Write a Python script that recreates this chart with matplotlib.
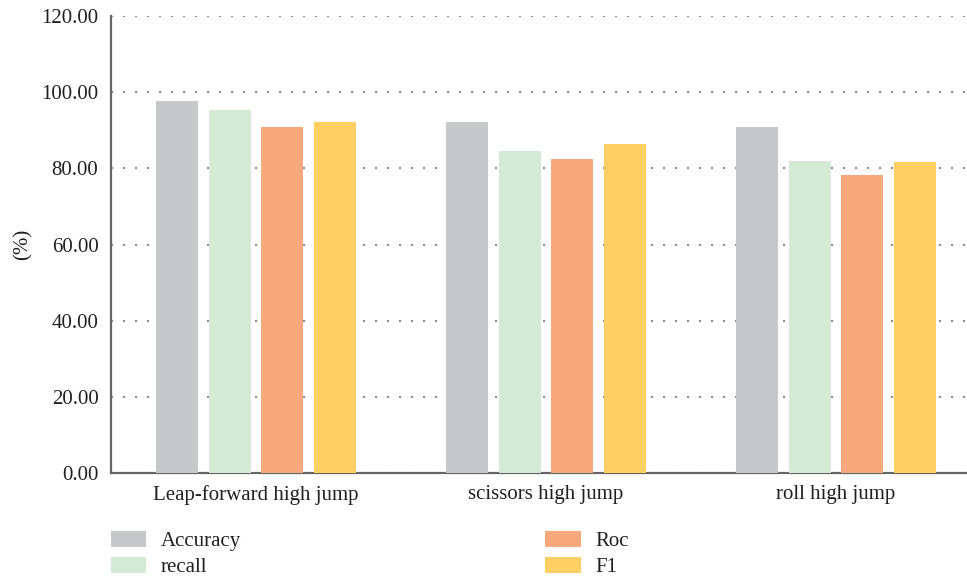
import matplotlib
matplotlib.use("Agg")
import matplotlib.pyplot as plt
import numpy as np

categories = ["Leap-forward high jump", "scissors high jump", "roll high jump"]
series_names = ["Accuracy", "recall", "Roc", "F1"]
accuracy = [97.7, 92.2, 90.9]
recall = [95.3, 84.6, 81.9]
roc = [90.9, 82.5, 78.3]
f1 = [92.2, 86.4, 81.7]
yticks = [0, 20, 40, 60, 80, 100, 120]

colors = ["#C7C8CA", "#D5EAD6", "#F7A87C", "#FED063"]

plt.rcParams["font.family"] = ["Liberation Serif", "DejaVu Serif"]

W, H = 967, 576
fig = plt.figure(figsize=(W / 100, H / 100), dpi=100)
left, right, top, bottom = 111, 981, 16, 473
ax = fig.add_axes([left / W, 1 - bottom / H, (right - left) / W, (bottom - top) / H])

x = np.arange(len(categories))
step = 0.181
width = 0.145
values = [accuracy, recall, roc, f1]
handles = []
for i, (name, vals) in enumerate(zip(series_names, values)):
    b = ax.bar(x + (i - 1.5) * step, vals, width=width, color=colors[i],
               label=name, zorder=3)
    handles.append(b)

fs = 15
ax.set_xlim(-0.5, 2.5)
ax.set_ylim(0, 120)
ax.set_yticks(yticks)
ax.set_yticklabels([f"{v:.2f}" for v in yticks], fontsize=fs, color="#231F20")
ax.set_xticks(x)
ax.set_xticklabels(categories, fontsize=fs, color="#231F20")
ax.tick_params(axis="both", length=0)
ax.tick_params(axis="x", pad=9)
ax.tick_params(axis="y", pad=9)

ax.yaxis.grid(True, linestyle=(0, (1, 4.76)), color="#8C8C8C", linewidth=1.5, zorder=0)
ax.set_axisbelow(True)

for s in ["top", "right"]:
    ax.spines[s].set_visible(False)
for s in ["left", "bottom"]:
    ax.spines[s].set_color("#666666")
    ax.spines[s].set_linewidth(1.6)

ax.set_ylabel("(%)", fontsize=fs, color="#231F20", labelpad=6.5)

fig.legend(handles=handles, labels=series_names, ncol=2, frameon=False,
           loc="upper left", bbox_to_anchor=(111 / W, 1 - 531 / H),
           borderpad=0, borderaxespad=0,
           fontsize=fs, handlelength=1.7, handleheight=0.77,
           handletextpad=0.7, columnspacing=14.6, labelspacing=0.3,
           labelcolor="#231F20")

fig.savefig("out.png", dpi=100)
